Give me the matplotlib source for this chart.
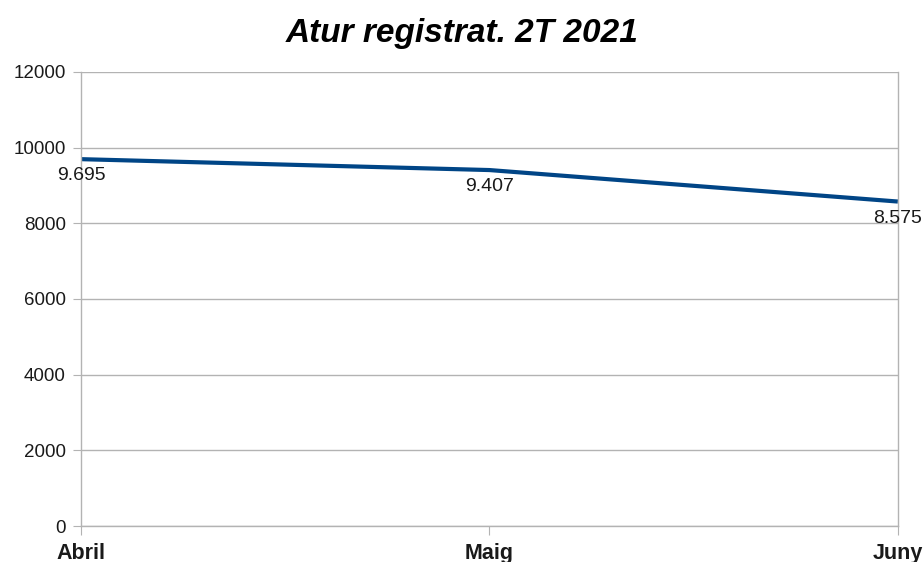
import matplotlib.pyplot as plt

plt.rcParams['font.family'] = ['Liberation Sans', 'DejaVu Sans']

# Dades
mesos = ["Abril", "Maig", "Juny"]
atur = [9695, 9407, 8575]
etiquetes = ["9.695", "9.407", "8.575"]

fig = plt.figure(figsize=(9.24, 5.62), dpi=100)
ax = fig.add_axes([0.0877, 0.064, 0.884, 0.808])

x = list(range(len(mesos)))
ax.plot(x, atur, color='#004586', linewidth=3, solid_capstyle='butt')

for xi, yi, txt in zip(x, atur, etiquetes):
    ax.annotate(txt, xy=(xi, yi), xytext=(0, -6), textcoords='offset points',
                ha='center', va='top', fontsize=14, color='#1a1a1a',
                annotation_clip=False)

ax.set_xlim(0, 2)
ax.set_ylim(0, 12000)
ax.set_yticks(range(0, 12001, 2000))
ax.set_xticks(x)
ax.set_xticklabels(mesos, fontweight='bold', fontsize=15.5)
ax.yaxis.grid(True, color='#b3b3b3', linewidth=1)
ax.set_axisbelow(True)

ax.spines['top'].set_visible(False)
for s in ['left', 'bottom', 'right']:
    ax.spines[s].set_color('#b3b3b3')
    ax.spines[s].set_linewidth(1)

ax.tick_params(axis='y', colors='#b3b3b3', labelcolor='#1a1a1a', labelsize=13.5, length=6, pad=5)
ax.tick_params(axis='x', colors='#b3b3b3', labelcolor='#1a1a1a', length=6.5, pad=6)

fig.text(0.5, 0.94, 'Atur registrat. 2T 2021', ha='center', va='center',
         fontsize=24, fontweight='bold', fontstyle='italic')

fig.savefig('out.png', dpi=100)
